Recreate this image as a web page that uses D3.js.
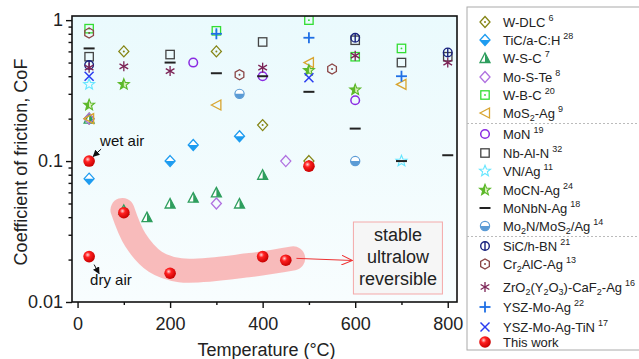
<!DOCTYPE html>
<html>
<head>
<meta charset="utf-8">
<script src="https://cdn.jsdelivr.net/npm/d3@7/dist/d3.min.js"></script>
<style>
  body { margin: 0; background: #fff; }
  svg text { font-family: "Liberation Sans", Arial, sans-serif; }
</style>
</head>
<body>
<div id="chart"></div>
<script>
// series names (with _n for subscripts), reference numbers, marker styles and colours
const seriesNames = ['W-DLC', 'TiC/a-C:H', 'W-S-C', 'Mo-S-Te', 'W-B-C', 'MoS_2-Ag',
    'MoN', 'Nb-Al-N', 'VN/Ag', 'MoCN-Ag', 'MoNbN-Ag', 'Mo_2N/MoS_2/Ag',
    'SiC/h-BN', 'Cr_2AlC-Ag', 'ZrO_2(Y_2O_3)-CaF_2-Ag', 'YSZ-Mo-Ag', 'YSZ-Mo-Ag-TiN', 'This work'];
const seriesRefs = ['6', '28', '7', '8', '20', '9', '19', '32', '11', '24', '18', '14',
    '21', '13', '16', '22', '17', ''];
const seriesMarkers = ['diamondDot', 'diamondHalf', 'triHalf', 'diamond', 'squareDot', 'triLeft',
    'circle', 'square', 'star', 'starHalf', 'dash', 'circleHalf',
    'circlePhi', 'hexDot', 'asterisk', 'plus', 'cross', 'sphere'];
const seriesColors = ['#858515', '#1e9cf0', '#2e9e5e', '#b070e0', '#33dd33', '#d9a530',
    '#8a2be2', '#444444', '#66e6ff', '#5cb82a', '#222222', '#5b9bd5',
    '#1a237e', '#8b4545', '#7b2255', '#1f6fe5', '#2a3cf0', '#ff0000'];

// [temperature °C, CoF]
const wdlc = [[25, 0.2], [100, 0.6], [300, 0.6], [400, 0.18], [500, 0.1]];
const tic = [[25, 0.075], [200, 0.1], [250, 0.13], [350, 0.15]];
const wsc = [[25, 0.2], [100, 0.045], [150, 0.04], [200, 0.05], [250, 0.055], [300, 0.06], [350, 0.05], [400, 0.08]];
const moste = [[25, 0.2], [300, 0.05], [450, 0.1]];
const wbc = [[25, 0.87], [300, 0.84], [500, 1.0], [600, 0.55], [700, 0.63]];
const mos2ag = [[25, 0.2], [300, 0.25], [500, 0.5], [700, 0.35]];
const mon = [[250, 0.5], [400, 0.4], [600, 0.27]];
const nbaln = [[25, 0.55], [200, 0.57], [400, 0.7], [600, 0.72], [700, 0.5], [800, 0.55]];
const vnag = [[25, 0.35], [700, 0.1]];
const mocnag = [[25, 0.25], [100, 0.35], [500, 0.44], [600, 0.32]];
const monbnag = [[25, 0.63], [200, 0.5], [300, 0.42], [400, 0.4], [500, 0.31], [600, 0.17], [700, 0.1], [800, 0.11]];
const mo2n = [[350, 0.3], [600, 0.1]];
const sichbn = [[25, 0.48], [600, 0.75], [800, 0.59]];
const cr2alc = [[25, 0.81], [350, 0.41], [550, 0.45]];
const zro2 = [[25, 0.46], [100, 0.47], [200, 0.435], [400, 0.46], [600, 0.56], [800, 0.5]];
const yszmoag = [[300, 0.8], [500, 0.75], [700, 0.4]];
const yszmoagtin = [[25, 0.4], [500, 0.39]];
const thisWork = [[25, 0.1], [25, 0.021], [100, 0.043], [200, 0.016], [400, 0.021], [450, 0.0198], [500, 0.092]];
const seriesValues = [wdlc, tic, wsc, moste, wbc, mos2ag, mon, nbaln, vnag, mocnag, monbnag, mo2n,
    sichbn, cr2alc, zro2, yszmoag, yszmoagtin, thisWork];

// highlighted band through the dry-air points and arrow to the note
const bandLine = [[97, 0.045], [125, 0.0275], [168, 0.0193], [222, 0.0168], [373, 0.0183], [466, 0.0204]];
const noteArrow = [[473, 0.0204], [594, 0.0197]];
const noteLines = ['stable', 'ultralow', 'reversible'];

const xTicks = [0, 200, 400, 600, 800];
const xMinor = [100, 300, 500, 700];
const yTicks = [0.01, 0.1, 1];
const yTickLabels = ['0.01', '0.1', '1'];

const width = 639, height = 359;
const svg = d3.select('#chart').append('svg')
    .attr('width', width).attr('height', height);
const defs = svg.append('defs');

const plot = { left: 72, right: 457, top: 16, bottom: 302 };
const x = d3.scaleLinear().domain([-12, 820]).range([plot.left, plot.right]);
const y = d3.scaleLog().domain([0.01, 1.07]).range([plot.bottom, plot.top]);

// gradients and clips
const bg = defs.append('linearGradient').attr('id', 'bg').attr('x1', 0).attr('y1', 0).attr('x2', 0).attr('y2', 1);
bg.append('stop').attr('offset', 0).attr('stop-color', '#eafafd');
bg.append('stop').attr('offset', 1).attr('stop-color', '#f8fdfe');
const ball = defs.append('radialGradient').attr('id', 'ball').attr('cx', 0.38).attr('cy', 0.35).attr('r', 0.65);
ball.append('stop').attr('offset', 0).attr('stop-color', '#ffd6d6');
ball.append('stop').attr('offset', 0.35).attr('stop-color', '#ff2020');
ball.append('stop').attr('offset', 1).attr('stop-color', '#c80000');
defs.append('clipPath').attr('id', 'halfBottom').append('rect').attr('x', -10).attr('y', 0).attr('width', 20).attr('height', 10);
defs.append('clipPath').attr('id', 'halfRight').append('rect').attr('x', 0).attr('y', -10).attr('width', 10).attr('height', 20);
defs.append('clipPath').attr('id', 'halfLeft').append('rect').attr('x', -10).attr('y', -10).attr('width', 10).attr('height', 20);
defs.append('clipPath').attr('id', 'plotClip').append('rect')
    .attr('x', plot.left).attr('y', plot.top)
    .attr('width', plot.right - plot.left).attr('height', plot.bottom - plot.top);

svg.append('rect')
    .attr('x', plot.left).attr('y', plot.top)
    .attr('width', plot.right - plot.left).attr('height', plot.bottom - plot.top)
    .attr('fill', 'url(#bg)');

function starPath(R, r) {
    const pts = [];
    for (let i = 0; i < 10; i++) {
        const a = -Math.PI / 2 + i * Math.PI / 5;
        const rr = i % 2 ? r : R;
        pts.push([rr * Math.cos(a), rr * Math.sin(a)]);
    }
    return 'M' + pts.join('L') + 'Z';
}
const diamondD = 'M0,-5.5L5,0L0,5.5L-5,0Z';
const triD = 'M0,-5L5,4.5L-5,4.5Z';
const hexD = d3.range(6).map(i => {
    const a = Math.PI / 6 + i * Math.PI / 3;
    return [5 * Math.cos(a), 5 * Math.sin(a)];
});

function marker(g, type, color) {
    const sw = 1.3;
    switch (type) {
        case 'diamondDot':
            g.append('path').attr('d', diamondD).attr('fill', 'none').attr('stroke', color).attr('stroke-width', sw);
            g.append('circle').attr('r', 1).attr('fill', color);
            break;
        case 'diamondHalf':
            g.append('path').attr('d', diamondD).attr('fill', '#fff').attr('stroke', color).attr('stroke-width', sw);
            g.append('path').attr('d', diamondD).attr('fill', color).attr('clip-path', 'url(#halfBottom)');
            break;
        case 'triHalf':
            g.append('path').attr('d', triD).attr('fill', '#fff').attr('stroke', color).attr('stroke-width', sw);
            g.append('path').attr('d', triD).attr('fill', color).attr('clip-path', 'url(#halfRight)');
            break;
        case 'diamond':
            g.append('path').attr('d', diamondD).attr('fill', 'none').attr('stroke', color).attr('stroke-width', sw);
            break;
        case 'squareDot':
            g.append('rect').attr('x', -4.2).attr('y', -4.2).attr('width', 8.4).attr('height', 8.4)
                .attr('fill', 'none').attr('stroke', color).attr('stroke-width', sw);
            g.append('circle').attr('r', 0.9).attr('fill', color);
            break;
        case 'square':
            g.append('rect').attr('x', -4.2).attr('y', -4.2).attr('width', 8.4).attr('height', 8.4)
                .attr('fill', 'none').attr('stroke', color).attr('stroke-width', sw);
            break;
        case 'triLeft':
            g.append('path').attr('d', 'M-5,0L4.5,-5L4.5,5Z').attr('fill', 'none').attr('stroke', color).attr('stroke-width', sw);
            break;
        case 'circle':
            g.append('circle').attr('r', 4.3).attr('fill', 'none').attr('stroke', color).attr('stroke-width', 1.5);
            break;
        case 'star':
            g.append('path').attr('d', starPath(5.8, 2.5)).attr('fill', 'none').attr('stroke', color).attr('stroke-width', 1.1);
            break;
        case 'starHalf':
            g.append('path').attr('d', starPath(5.8, 2.5)).attr('fill', '#d8efb8').attr('stroke', color).attr('stroke-width', 1.1);
            g.append('path').attr('d', starPath(5.8, 2.5)).attr('fill', color).attr('clip-path', 'url(#halfLeft)');
            break;
        case 'dash':
            g.append('line').attr('x1', -5.5).attr('x2', 5.5).attr('stroke', color).attr('stroke-width', 2);
            break;
        case 'circleHalf':
            g.append('circle').attr('r', 4.6).attr('fill', '#fff').attr('stroke', color).attr('stroke-width', 1.2);
            g.append('circle').attr('r', 4.6).attr('fill', color).attr('clip-path', 'url(#halfBottom)');
            break;
        case 'circlePhi':
            g.append('circle').attr('r', 4.3).attr('fill', 'none').attr('stroke', color).attr('stroke-width', 1.4);
            g.append('line').attr('y1', -4.3).attr('y2', 4.3).attr('stroke', color).attr('stroke-width', 1.4);
            break;
        case 'hexDot':
            g.append('path').attr('d', 'M' + hexD.join('L') + 'Z').attr('fill', 'none').attr('stroke', color).attr('stroke-width', sw);
            g.append('circle').attr('r', 1).attr('fill', color);
            break;
        case 'asterisk':
            [0, 60, 120].forEach(a => {
                g.append('line').attr('x1', -5).attr('x2', 5).attr('transform', `rotate(${a + 90})`)
                    .attr('stroke', color).attr('stroke-width', 1.3);
            });
            break;
        case 'plus':
            g.append('line').attr('x1', -5.5).attr('x2', 5.5).attr('stroke', color).attr('stroke-width', 1.8);
            g.append('line').attr('y1', -5.5).attr('y2', 5.5).attr('stroke', color).attr('stroke-width', 1.8);
            break;
        case 'cross':
            g.append('line').attr('x1', -4.5).attr('y1', -4.5).attr('x2', 4.5).attr('y2', 4.5).attr('stroke', color).attr('stroke-width', 1.5);
            g.append('line').attr('x1', -4.5).attr('y1', 4.5).attr('x2', 4.5).attr('y2', -4.5).attr('stroke', color).attr('stroke-width', 1.5);
            break;
        case 'sphere':
            g.append('circle').attr('r', 5.8).attr('fill', 'url(#ball)');
            break;
    }
}

// highlighted band
const inner = svg.append('g').attr('clip-path', 'url(#plotClip)');
inner.append('path')
    .attr('d', d3.line().x(d => x(d[0])).y(d => y(d[1])).curve(d3.curveCatmullRom)(bandLine))
    .attr('fill', 'none')
    .attr('stroke', '#f8b4b4')
    .attr('stroke-width', 24)
    .attr('stroke-linecap', 'round')
    .attr('stroke-linejoin', 'round')
    .attr('opacity', 0.9);

// data markers
seriesValues.forEach((vals, i) => {
    inner.selectAll(null)
        .data(vals)
        .join('g')
        .attr('transform', d => `translate(${x(d[0])},${y(d[1])})`)
        .each(function () { marker(d3.select(this), seriesMarkers[i], seriesColors[i]); });
});

// arrow to the note box
defs.append('marker').attr('id', 'openHead').attr('viewBox', '0 0 12 10')
    .attr('refX', 11).attr('refY', 5).attr('markerWidth', 12).attr('markerHeight', 10)
    .attr('markerUnits', 'userSpaceOnUse').attr('orient', 'auto')
    .append('path').attr('d', 'M0,0L11,5L0,10').attr('fill', 'none').attr('stroke', '#ee3333').attr('stroke-width', 1);
svg.append('line')
    .attr('x1', x(noteArrow[0][0])).attr('y1', y(noteArrow[0][1]))
    .attr('x2', x(noteArrow[1][0])).attr('y2', y(noteArrow[1][1]))
    .attr('stroke', '#ee3333').attr('stroke-width', 1)
    .attr('marker-end', 'url(#openHead)');

// note box
const noteX = x(noteArrow[1][0]) + 1;
svg.append('rect')
    .attr('x', noteX).attr('y', 222).attr('width', 89).attr('height', 72)
    .attr('fill', '#f6f6f6').attr('stroke', '#f4a9a9').attr('stroke-width', 1);
svg.append('g').selectAll('text')
    .data(noteLines)
    .join('text')
    .attr('x', noteX + 44.5)
    .attr('y', (d, i) => 241 + i * 22)
    .attr('text-anchor', 'middle')
    .attr('font-size', 18)
    .attr('fill', '#222')
    .text(d => d);

// wet / dry air labels
defs.append('marker').attr('id', 'blackHead').attr('viewBox', '0 0 10 10')
    .attr('refX', 9).attr('refY', 5).attr('markerWidth', 7).attr('markerHeight', 7)
    .attr('markerUnits', 'userSpaceOnUse').attr('orient', 'auto')
    .append('path').attr('d', 'M0,0L10,5L0,10Z').attr('fill', '#111');
const wet = [x(thisWork[0][0]), y(thisWork[0][1])];
const dry = [x(thisWork[1][0]), y(thisWork[1][1])];
svg.append('text').attr('x', wet[0] + 11).attr('y', wet[1] - 15).attr('font-size', 15).attr('fill', '#111').text('wet air');
svg.append('line').attr('x1', wet[0] + 12).attr('y1', wet[1] - 12).attr('x2', wet[0] + 4).attr('y2', wet[1] - 4.5)
    .attr('stroke', '#111').attr('stroke-width', 1).attr('marker-end', 'url(#blackHead)');
svg.append('text').attr('x', dry[0] + 1).attr('y', dry[1] + 28).attr('font-size', 15).attr('fill', '#111').text('dry air');
svg.append('line').attr('x1', dry[0] + 5).attr('y1', dry[1] + 8).attr('x2', dry[0] + 10).attr('y2', dry[1] + 17)
    .attr('stroke', '#111').attr('stroke-width', 1).attr('marker-end', 'url(#blackHead)');

// frame and axes
svg.append('rect')
    .attr('x', plot.left).attr('y', plot.top)
    .attr('width', plot.right - plot.left).attr('height', plot.bottom - plot.top)
    .attr('fill', 'none').attr('stroke', '#111').attr('stroke-width', 1.6);

const xAxis = svg.append('g').attr('transform', `translate(0,${plot.bottom})`)
    .call(d3.axisBottom(x).tickValues(xTicks).tickSize(6).tickFormat(d3.format('d')));
svg.append('g').attr('transform', `translate(0,${plot.bottom})`)
    .call(d3.axisBottom(x).tickValues(xMinor).tickSize(3).tickFormat(''));

const yMinor = [];
[0.01, 0.1].forEach(dec => d3.range(2, 10).forEach(k => yMinor.push(dec * k)));
const yAxis = svg.append('g').attr('transform', `translate(${plot.left},0)`)
    .call(d3.axisLeft(y).tickValues(yTicks).tickSize(6).tickFormat((d, i) => yTickLabels[i]));
svg.append('g').attr('transform', `translate(${plot.left},0)`)
    .call(d3.axisLeft(y).tickValues(yMinor).tickSize(3.5).tickFormat(''));

svg.selectAll('.domain').remove();
svg.selectAll('.tick line').attr('stroke', '#111').attr('stroke-width', 1.4);
xAxis.selectAll('.tick text').attr('font-size', 18).attr('fill', '#222').attr('dy', '1.05em');
yAxis.selectAll('.tick text').attr('font-size', 18).attr('fill', '#222').attr('x', -9);

svg.append('text')
    .attr('x', (plot.left + plot.right) / 2 + 2).attr('y', 356)
    .attr('text-anchor', 'middle').attr('font-size', 18).attr('fill', '#222')
    .text('Temperature (°C)');
svg.append('text')
    .attr('transform', `translate(27,${(plot.top + plot.bottom) / 2 + 3}) rotate(-90)`)
    .attr('text-anchor', 'middle').attr('font-size', 18).attr('fill', '#222')
    .text('Coefficient of friction, CoF');

// legend
const legendY = [22, 40, 58, 77, 95, 113, 134, 153, 171, 190, 208, 226, 246, 264, 287, 307, 327, 342];
const legend = svg.append('g');
legend.append('rect').attr('x', 467).attr('y', 7).attr('width', 200).attr('height', 343)
    .attr('fill', '#fff').attr('stroke', '#aaa').attr('stroke-width', 1);
[123.5, 236.5].forEach(yy => {
    legend.append('line').attr('x1', 467).attr('x2', 639).attr('y1', yy).attr('y2', yy)
        .attr('stroke', '#bbb').attr('stroke-dasharray', '2,2');
});
seriesNames.forEach((name, i) => {
    const row = legend.append('g').attr('transform', `translate(485,${legendY[i]})`);
    marker(row, seriesMarkers[i], seriesColors[i]);
    const t = row.append('text').attr('x', 18).attr('y', 5).attr('font-size', 13).attr('fill', '#222');
    // keep track of the baseline offset so each piece sits at its own level
    let offset = 0;
    const piece = (txt, size, level, dx) => {
        const s = t.append('tspan').attr('dy', level - offset).text(txt);
        if (size) s.attr('font-size', size);
        if (dx) s.attr('dx', dx);
        offset = level;
    };
    name.split(/(_\d)/).filter(s => s).forEach(part => {
        if (part[0] === '_') piece(part.slice(1), 9, 3);
        else piece(part, null, 0);
    });
    if (seriesRefs[i]) piece(seriesRefs[i], 9, -6, 3);
});
</script>
</body>
</html>
